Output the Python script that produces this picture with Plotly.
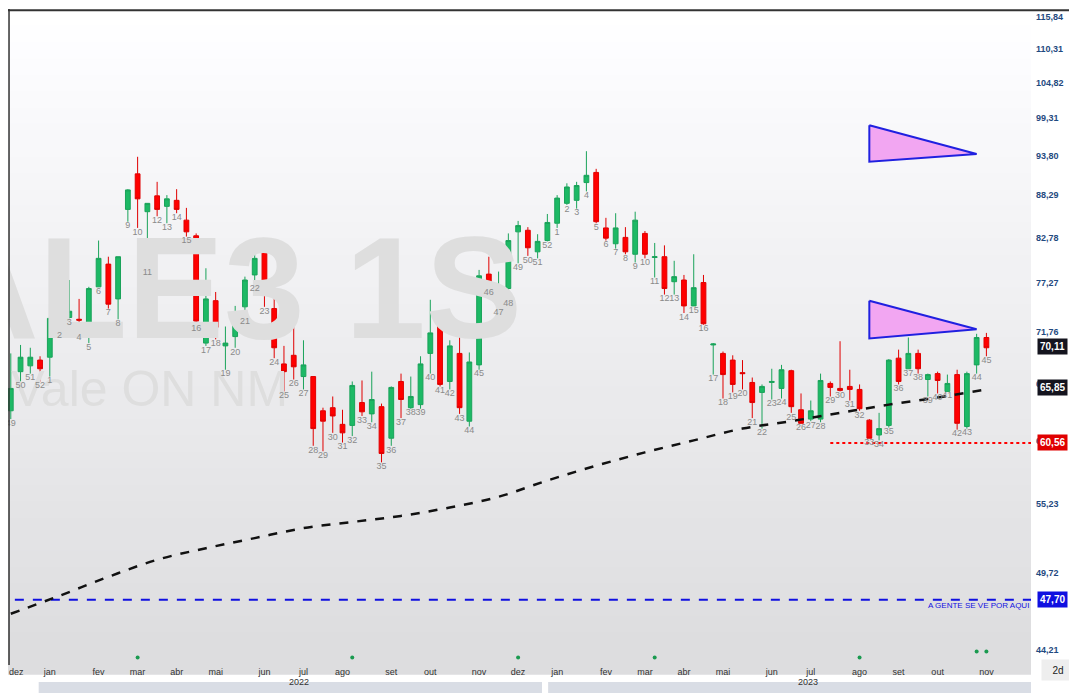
import pandas as pd
import numpy as np
import plotly.graph_objects as go

# weekly candles, dez/2021 .. nov/2023
start_week = "2021-12-06"
week_labels = [49, 50, 51, 52] + list(range(1, 53)) + list(range(1, 46))

opens = [63.6, 67.5, 68.1, 68.7,
         69.0, 71.9, 73.3, 73.1, 72.3, 76.8, 79.5, 75.4, 86.4, 91.2, 86.1, 88.2, 86.8, 87.6, 85.0, 83.0,
         70.5, 75.2, 70.2, 71.2, 74.5, 78.2, 81.1, 74.3, 68.3, 69.2, 67.0, 67.0, 63.6, 63.9, 62.3, 62.2,
         64.4, 63.3, 64.0, 61.0, 66.5, 63.9, 64.2, 69.4, 72.6, 66.5, 69.4, 62.6, 68.2, 78.3, 75.1, 76.6,
         83.5, 83.7, 81.0, 82.4,
         84.6, 87.2, 87.6, 90.0, 91.4, 84.0, 82.0, 82.8, 80.7, 83.3, 80.3, 80.4, 77.4, 77.6, 74.6, 77.3,
         70.3, 69.4, 68.7, 67.4, 66.4, 65.4, 66.4, 65.8, 67.6, 63.7, 62.8, 62.8, 66.3, 65.8, 66.0, 65.7,
         62.7, 61.3, 62.2, 68.9, 67.8, 69.4, 66.7, 67.3, 65.5, 67.2, 62.1, 68.2, 71.1]
highs = [69.4, 70.3, 70.0, 69.1,
         73.2, 75.4, 77.6, 75.4, 76.8, 82.4, 80.4, 80.4, 89.1, 93.6, 87.2, 90.1, 88.3, 89.1, 86.6, 83.3,
         79.0, 76.2, 72.3, 74.6, 78.0, 81.8, 82.3, 75.8, 70.2, 72.5, 70.8, 67.0, 63.9, 65.0, 63.7, 66.5,
         66.6, 67.5, 64.3, 66.0, 67.3, 67.0, 69.1, 75.3, 73.1, 70.8, 71.1, 69.5, 78.8, 80.4, 78.6, 83.3,
         84.9, 84.1, 83.2, 85.8,
         88.3, 89.9, 90.1, 94.4, 91.9, 85.3, 85.9, 84.1, 86.1, 83.6, 82.1, 81.8, 79.9, 78.2, 80.7, 78.2,
         70.5, 69.6, 69.2, 68.7, 66.9, 66.2, 67.8, 68.2, 67.7, 65.3, 64.6, 67.3, 66.5, 70.7, 67.7, 66.2,
         62.8, 63.4, 68.8, 69.8, 71.1, 69.8, 67.3, 67.5, 67.2, 67.7, 67.5, 71.5, 71.6]
lows = [62.8, 66.5, 67.3, 66.5,
        67.0, 71.8, 73.2, 71.6, 70.5, 76.8, 74.3, 73.1, 84.8, 84.0, 79.0, 85.5, 84.6, 85.9, 82.9, 72.6,
        70.2, 70.9, 67.7, 70.0, 73.3, 77.1, 74.5, 68.9, 65.5, 66.7, 65.7, 60.3, 59.8, 61.5, 60.6, 61.2,
        63.1, 62.5, 58.8, 60.3, 62.9, 63.8, 63.8, 67.3, 66.0, 65.7, 63.3, 62.1, 67.7, 76.6, 74.3, 75.4,
        79.6, 80.5, 80.2, 82.3,
        84.0, 87.0, 86.5, 88.8, 84.6, 82.4, 81.4, 80.7, 79.7, 80.2, 77.9, 75.9, 75.9, 73.8, 74.6, 72.5,
        67.2, 64.8, 65.4, 65.7, 62.9, 61.9, 64.7, 64.8, 63.4, 62.4, 62.6, 62.5, 65.0, 65.5, 64.6, 63.6,
        61.0, 60.8, 62.0, 66.2, 67.8, 67.3, 65.0, 65.3, 65.5, 61.8, 61.9, 67.3, 69.1]
closes = [65.8, 69.0, 69.0, 67.8,
          73.2, 73.8, 74.0, 73.0, 76.6, 80.2, 74.8, 80.4, 89.0, 87.8, 87.2, 86.4, 87.8, 86.4, 83.5, 72.9,
          75.4, 72.2, 70.5, 73.6, 77.6, 80.2, 76.5, 70.0, 67.5, 68.0, 68.2, 61.9, 62.6, 63.1, 61.5, 66.1,
          63.5, 64.7, 59.6, 65.9, 64.7, 65.0, 68.3, 71.6, 66.2, 70.2, 63.9, 68.5, 78.1, 76.7, 76.7, 82.4,
          84.3, 81.5, 82.3, 84.7,
          87.9, 89.4, 89.6, 91.0, 84.8, 82.7, 84.0, 81.0, 85.0, 80.7, 80.4, 76.6, 78.0, 74.6, 76.7, 72.6,
          70.4, 67.2, 66.2, 67.3, 64.4, 66.0, 66.5, 67.7, 64.0, 62.4, 63.6, 66.6, 65.9, 65.6, 65.7, 63.8,
          61.0, 61.9, 68.7, 66.5, 69.4, 67.8, 67.2, 66.6, 66.3, 62.4, 67.3, 71.1, 70.0]

# long moving average, read at some candles
ma_idx = [0, 5, 10, 15, 20, 25, 30, 35, 40, 45, 50, 55, 60, 65, 70, 75, 80, 85, 90, 95, 100]
ma_vals = [46.7, 48.0, 49.4, 50.7, 51.6, 52.4, 53.2, 53.7, 54.2, 54.9, 55.8, 57.2, 58.5, 59.7,
           60.8, 61.9, 62.6, 63.4, 64.2, 64.9, 65.7]

dot_dates = ["2022-03-07", "2022-08-08", "2022-12-05", "2023-03-13", "2023-08-07", "2023-10-30", "2023-11-06"]
dot_vals = [43.7, 43.7, 43.7, 43.7, 43.7, 44.1, 44.1]

tri1_x = ["2023-08-14", "2023-08-14", "2023-10-30", "2023-08-14"]
tri1_y = [98.2, 92.9, 94.0, 98.2]
tri2_x = ["2023-08-14", "2023-08-14", "2023-10-30", "2023-08-14"]
tri2_y = [75.2, 71.0, 72.0, 75.2]

support = 60.56
target = 47.70
last_close = 70.11
last_ma = 65.85

yticks = [115.84, 110.31, 104.82, 99.31, 93.80, 88.29, 82.78, 77.27, 71.76, 66.25, 60.74, 55.23, 49.72, 44.21]
month_ticks = pd.date_range("2021-12-01", "2023-11-30", freq="MS")
month_names = ["jan", "fev", "mar", "abr", "mai", "jun", "jul", "ago", "set", "out", "nov", "dez"]

dates = pd.date_range(start_week, periods=len(opens), freq="7D")
x_start = "2021-12-04"
x_end = "2023-12-08"

tick_pos = [d + pd.Timedelta(days=(7 - d.weekday()) % 7) for d in month_ticks]
tick_pos[0] = pd.Timestamp("2021-12-10")

fig = go.Figure()

# watermark
fig.add_trace(go.Scatter(x=["2022-12-08"], y=[75.1], mode="text", text=["VALE3 1S"],
                         textposition="middle left", hoverinfo="skip", showlegend=False,
                         textfont=dict(size=145, color="#dedede", family="Liberation Sans", weight="bold")))
fig.add_trace(go.Scatter(x=["2022-06-23"], y=[65.3], mode="text", text=["Vale ON NM"],
                         textposition="middle left", hoverinfo="skip", showlegend=False,
                         textfont=dict(size=50, color="#dedede", family="Liberation Sans")))

fig.add_trace(go.Scatter(x=[dates[0] - pd.Timedelta(days=10), x_end], y=[target, target], mode="lines",
                         line=dict(color="#1010e0", width=2, dash="dash"), showlegend=False))
fig.add_trace(go.Scatter(x=["2023-07-17", x_end], y=[support, support], mode="lines",
                         line=dict(color="#ff0000", width=2, dash="dot"), showlegend=False))

fig.add_trace(go.Scatter(x=[dates[i] for i in ma_idx], y=ma_vals, mode="lines", line_shape="spline",
                         line=dict(color="#111111", width=2.5, dash="dash"), showlegend=False))

for tx, ty in [(tri1_x, tri1_y), (tri2_x, tri2_y)]:
    fig.add_trace(go.Scatter(x=tx, y=ty, mode="lines", fill="toself", fillcolor="#f2a6f2",
                             line=dict(color="#2020e0", width=2), showlegend=False))

fig.add_trace(go.Candlestick(x=dates, open=opens, high=highs, low=lows, close=closes,
                             increasing=dict(line=dict(color="#1aa35a", width=1), fillcolor="#1db965"),
                             decreasing=dict(line=dict(color="#e00000", width=1), fillcolor="#ff0000"),
                             whiskerwidth=0, showlegend=False))

fig.add_trace(go.Scatter(x=dates, y=lows, mode="text", text=[str(w) for w in week_labels],
                         textposition="bottom center", textfont=dict(size=9, color="#8a8a8a"),
                         showlegend=False, hoverinfo="skip"))

fig.add_trace(go.Scatter(x=dot_dates, y=dot_vals, mode="markers",
                         marker=dict(color="#1a9a50", size=4), showlegend=False))

# background gradient
shapes = []
n = 40
for k in range(n):
    g = int(255 - 34 * k / (n - 1))
    shapes.append(dict(type="rect", xref="paper", yref="paper", x0=0, x1=1,
                       y0=1 - (k + 1.6) / n, y1=1 - k / n, fillcolor=f"rgb({g},{g},{min(255, g + 2)})",
                       line_width=0, layer="below"))
shapes.append(dict(type="line", xref="paper", yref="paper", x0=-0.01, x1=1.05, y0=0.998, y1=0.998,
                   line=dict(color="#333", width=2)))
shapes.append(dict(type="line", xref="paper", yref="paper", x0=0.001, x1=0.001, y0=0, y1=1,
                   line=dict(color="#333", width=1.5)))
# year band
shapes.append(dict(type="rect", xref="paper", yref="paper", x0=0.03, x1=0.522, y0=-0.045, y1=-0.026,
                   fillcolor="#d9dde5", line_width=0))
shapes.append(dict(type="rect", xref="paper", yref="paper", x0=0.528, x1=1.0, y0=-0.045, y1=-0.026,
                   fillcolor="#d9dde5", line_width=0))

ann = [
    dict(x="2022-07-01", y=-0.036, yref="paper", text="2022", showarrow=False,
         font=dict(size=9, color="#333")),
    dict(x="2023-07-01", y=-0.036, yref="paper", text="2023", showarrow=False,
         font=dict(size=9, color="#333")),
    dict(x=1.0, xref="paper", y=np.log10(target), yshift=-6, xanchor="right", text="A GENTE SE VE POR AQUI",
         showarrow=False, font=dict(size=8, color="#1010e0")),
    dict(x=1.0, xref="paper", y=-0.025, yref="paper", xanchor="left", xshift=10, text="2d",
         showarrow=False, font=dict(size=10, color="#222"), bgcolor="#eeeeee", width=30, height=18),
]
for v, bg in [(last_close, "#14141e"), (last_ma, "#14141e"), (support, "#e00000"), (target, "#1010e0")]:
    ann.append(dict(x=1.0, xref="paper", y=np.log10(v), xanchor="left", xshift=6,
                    text="<b>" + f"{v:.2f}".replace(".", ",") + "</b>", showarrow=False,
                    font=dict(size=10, color="white"), bgcolor=bg, borderpad=2))

fig.update_layout(
    width=1069, height=685,
    margin=dict(l=0, r=46, t=1, b=28),
    paper_bgcolor="white", plot_bgcolor="rgba(0,0,0,0)",
    font=dict(family="Liberation Sans"),
    shapes=shapes, annotations=ann, showlegend=False,
    xaxis=dict(type="date", range=[x_start, x_end], rangeslider=dict(visible=False),
               tickvals=tick_pos,
               ticktext=[month_names[d.month - 1] for d in month_ticks],
               tickfont=dict(size=9, color="#333"), showgrid=False, zeroline=False, ticks=""),
    yaxis=dict(type="log", side="right", range=[np.log10(43.2), np.log10(117.2)],
               tickvals=yticks, ticktext=["<b>" + f"{v:.2f}".replace(".", ",") + "</b>" for v in yticks],
               tickfont=dict(size=9, color="#1f4a80"), showgrid=False, zeroline=False, ticks="",
               ticklabelstandoff=4),
)

fig.write_html("out.html")
